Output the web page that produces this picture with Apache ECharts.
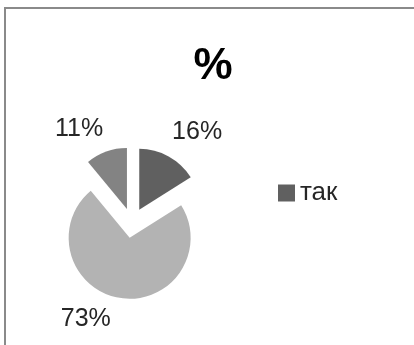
<!DOCTYPE html>
<html>
<head>
<meta charset="utf-8">
<script src="https://cdn.jsdelivr.net/npm/echarts@6/dist/echarts.min.js"></script>
<style>
html,body{margin:0;padding:0;background:#fff;}
#chart{width:414px;height:345px;}
</style>
</head>
<body>
<div id="chart"></div>
<script>
// Data
const categories = ['так', '', ' '];
const values = [16, 73, 11];
const legendItems = ['так'];
const titleText = '%';

// Styles (kept separate from data)
const sliceColors = ['#606060', '#b3b3b3', '#838383'];
const labelLineLengths = [28, 21, 24];
const labelDistances = [-10, 6, -5];

const chart = echarts.init(document.getElementById('chart'), null, {renderer: 'canvas'});
const FONT = '"Liberation Sans", Arial, sans-serif';

const seriesData = categories.map((name, i) => ({
  name: name,
  value: values[i],
  selected: true,
  itemStyle: {color: sliceColors[i]},
  label: {distanceToLabelLine: labelDistances[i]},
  labelLine: {length: labelLineLengths[i], length2: 0, show: false}
}));

chart.setOption({
  animation: false,
  backgroundColor: '#ffffff',
  title: {
    text: titleText,
    left: 208,
    top: 40,
    textAlign: 'center',
    textStyle: {fontFamily: FONT, fontWeight: 'bold', fontSize: 44, color: '#000'}
  },
  legend: {
    data: legendItems,
    left: 273,
    top: 175,
    icon: 'rect',
    itemWidth: 17,
    itemHeight: 17,
    itemGap: 6,
    selectedMode: false,
    textStyle: {fontFamily: FONT, fontSize: 26, color: '#262626'}
  },
  graphic: [{
    type: 'rect',
    shape: {x: 5, y: 8, width: 600, height: 600},
    style: {fill: 'none', stroke: '#8a8a8a', lineWidth: 2},
    silent: true,
    z: 100
  }],
  series: [{
    type: 'pie',
    center: [132, 223],
    radius: [0, 61],
    startAngle: 90,
    clockwise: true,
    selectedMode: 'multiple',
    selectedOffset: 15,
    avoidLabelOverlap: false,
    emphasis: {disabled: true},
    label: {
      show: true,
      position: 'outside',
      formatter: p => Math.round(p.percent) + '%',
      fontFamily: FONT,
      fontSize: 25,
      color: '#262626'
    },
    labelLine: {show: false, length: 20, length2: 0},
    data: seriesData
  }]
});
</script>
</body>
</html>
